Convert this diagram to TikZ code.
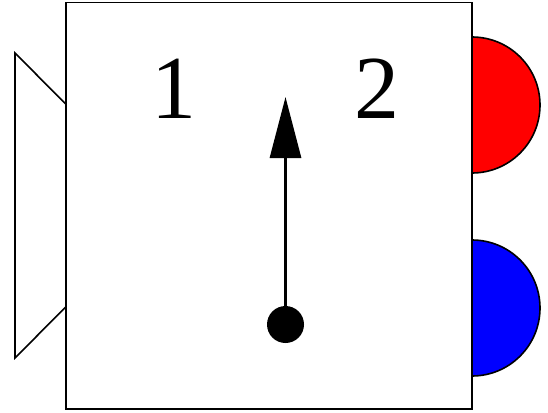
\documentclass[tikz,border=0pt]{standalone}
\usepackage{fontspec}
\setmainfont{Liberation Serif}
\usetikzlibrary{arrows.meta}
\begin{document}
\begin{tikzpicture}[x=1pt,y=-1pt,
  outline/.style={draw=black,line width=1.6pt,line join=miter},
  digit/.style={font=\fontsize{90}{90}\selectfont,inner sep=0pt,text=black}]
\useasboundingbox (0,0) rectangle (548,412);
\draw[outline,fill=red] (472,37) arc[start angle=-90,end angle=90,radius=68] -- cycle;
\draw[outline,fill=blue] (472,240) arc[start angle=-90,end angle=90,radius=68] -- cycle;
\draw[outline,fill=white] (65.7,104) -- (15,53) -- (15,358) -- (65.7,307);
\node[outline,fill=white,outer sep=0pt,minimum width=406.3pt,minimum height=406.3pt,inner sep=0pt,anchor=north west] (body) at (65.7,2.7) {};
\node[digit] (one) at (174,89) {1};
\node[digit] (two) at (377,89) {2};
\node[circle,fill=black,minimum size=37pt,inner sep=0pt] (pivot) at (285.5,324.5) {};
\coordinate (tip) at (285.5,97);
\draw[line width=3pt,-{Triangle[length=61pt,width=31pt]}] (pivot) -- (tip);
\end{tikzpicture}
\end{document}
